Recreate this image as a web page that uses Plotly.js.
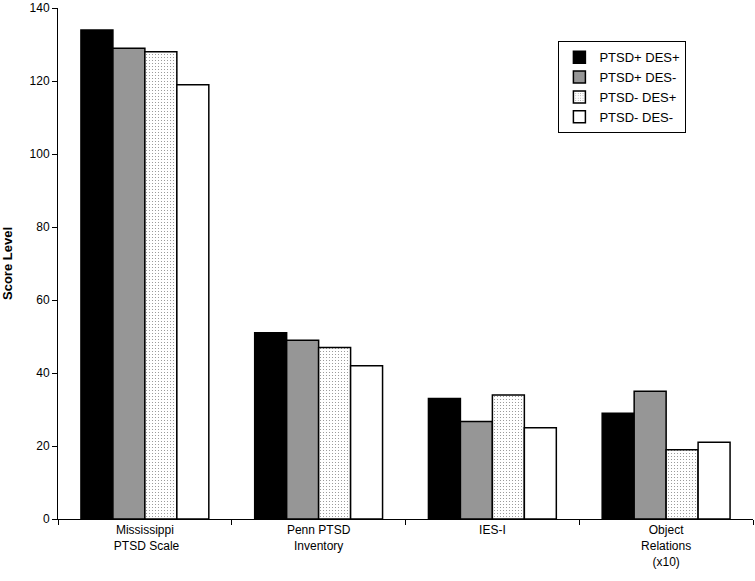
<!DOCTYPE html>
<html>
<head>
<meta charset="utf-8">
<script src="https://cdn.plot.ly/plotly-3.0.1.min.js"></script>
<style>
  html, body { margin: 0; padding: 0; background: #fff; }
  #plot { width: 755px; height: 581px; }
</style>
</head>
<body>
<div id="plot"></div>
<script>
// Categories (x axis)
let categories = ["Mississippi<br> PTSD Scale", "Penn PTSD<br>Inventory", "IES-I", "Object<br>Relations<br>(x10)"]

// Series values
let seriesNames = ["PTSD+ DES+", "PTSD+ DES-", "PTSD- DES+", "PTSD- DES-"]
let ptsdPosDesPos = [134, 51, 33, 29]
let ptsdPosDesNeg = [129, 49, 26.7, 35]
let ptsdNegDesPos = [128, 47, 34, 19]
let ptsdNegDesNeg = [119, 42, 25, 21]

// y tick values
let yTicks = [0, 20, 40, 60, 80, 100, 120, 140]

let outline = {color: "#000", width: 1.5}

// Trace 1 - solid black
let trace1 = {
    x: categories,
    y: ptsdPosDesPos,
    name: seriesNames[0],
    type: "bar",
    marker: {color: "#000", line: outline}
}

// Trace 2 - fine checkerboard (dark grey)
let trace2 = {
    x: categories,
    y: ptsdPosDesNeg,
    name: seriesNames[1],
    type: "bar",
    marker: {
        color: "#fff",
        line: outline,
        pattern: {shape: ".", size: 2, solidity: 0.8, fgcolor: "#000", bgcolor: "#fff", fillmode: "overlay"}
    }
}

// Trace 3 - sparse dots
let trace3 = {
    x: categories,
    y: ptsdNegDesPos,
    name: seriesNames[2],
    type: "bar",
    marker: {
        color: "#fff",
        line: outline,
        pattern: {shape: ".", size: 3, solidity: 0.1, fgcolor: "#000", bgcolor: "#fff", fillmode: "overlay"}
    }
}

// Trace 4 - white
let trace4 = {
    x: categories,
    y: ptsdNegDesNeg,
    name: seriesNames[3],
    type: "bar",
    marker: {color: "#fff", line: outline}
}

var data = [trace1, trace2, trace3, trace4]

var layout = {
    width: 755,
    height: 581,
    margin: {l: 58, r: 2, t: 8, b: 62},
    paper_bgcolor: "#fff",
    plot_bgcolor: "#fff",
    font: {family: "Liberation Sans, Arial, sans-serif", size: 12, color: "#000"},
    barmode: "group",
    bargap: 0.264,
    bargroupgap: 0,
    showlegend: true,
    legend: {
        x: 0.72, y: 0.935, xanchor: "left", yanchor: "top",
        bordercolor: "#000", borderwidth: 1, bgcolor: "#fff",
        font: {size: 13},
        itemwidth: 30,
        tracegroupgap: 0
    },
    xaxis: {
        showline: true, linecolor: "#000", linewidth: 1,
        ticks: "outside", ticklen: 5, tickcolor: "#000",
        tickson: "boundaries",
        showgrid: false,
        tickfont: {size: 12}
    },
    yaxis: {
        title: {text: "<b>Score Level</b>", font: {size: 13}, standoff: 14},
        range: [0, 140],
        tickmode: "array", tickvals: yTicks,
        showline: true, linecolor: "#000", linewidth: 1,
        ticks: "outside", ticklen: 5, tickcolor: "#000",
        showgrid: false, zeroline: false,
        tickfont: {size: 12}
    }
}

Plotly.newPlot("plot", data, layout, {displayModeBar: false});
</script>
</body>
</html>
